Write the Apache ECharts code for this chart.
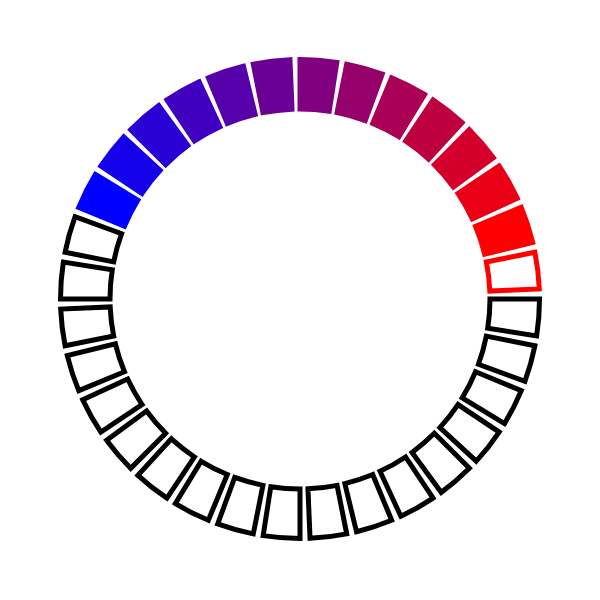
<!DOCTYPE html>
<html>
<head>
<meta charset="utf-8">
<script src="https://cdn.jsdelivr.net/npm/echarts@6/dist/echarts.min.js"></script>
<style>html,body{margin:0;padding:0;background:#fff}#c{width:600px;height:600px}</style>
</head>
<body>
<div id="c"></div>
<script>
// 32 equal segments, listed clockwise starting at 12 o'clock
const segmentValues = [1,1,1,1,1,1,1,1,1,1,1,1,1,1,1,1,1,1,1,1,1,1,1,1,1,1,1,1,1,1,1,1];
// fill colour per segment (null = hollow)
const segmentFill = [
  '#800080','#95006a','#aa0055','#bf0040','#d4002b','#ea0015','#ff0000',
  null,
  null,null,null,null,null,null,null,null,null,null,null,null,null,null,null,null,null,null,
  '#0000ff','#1500ea','#2b00d4','#4000bf','#5500aa','#6a0095'
];
// outline colour per segment
const segmentStroke = [
  '#800080','#95006a','#aa0055','#bf0040','#d4002b','#ea0015','#ff0000',
  '#ff0000',
  '#000000','#000000','#000000','#000000','#000000','#000000','#000000','#000000','#000000',
  '#000000','#000000','#000000','#000000','#000000','#000000','#000000','#000000','#000000',
  '#0000ff','#1500ea','#2b00d4','#4000bf','#5500aa','#6a0095'
];

const chart = echarts.init(document.getElementById('c'), null, {renderer: 'canvas'});
chart.setOption({
  animation: false,
  series: [{
    type: 'pie',
    center: [300, 299],
    radius: [190, 239.5],
    startAngle: 91.2,
    clockwise: true,
    padAngle: 2.4,
    label: {show: false},
    labelLine: {show: false},
    emphasis: {disabled: true},
    data: segmentValues.map((v, i) => ({
      value: v,
      itemStyle: {
        color: segmentFill[i] || '#ffffff',
        borderColor: segmentStroke[i],
        borderWidth: 5,
        borderJoin: 'miter'
      }
    }))
  }]
});
</script>
</body>
</html>
